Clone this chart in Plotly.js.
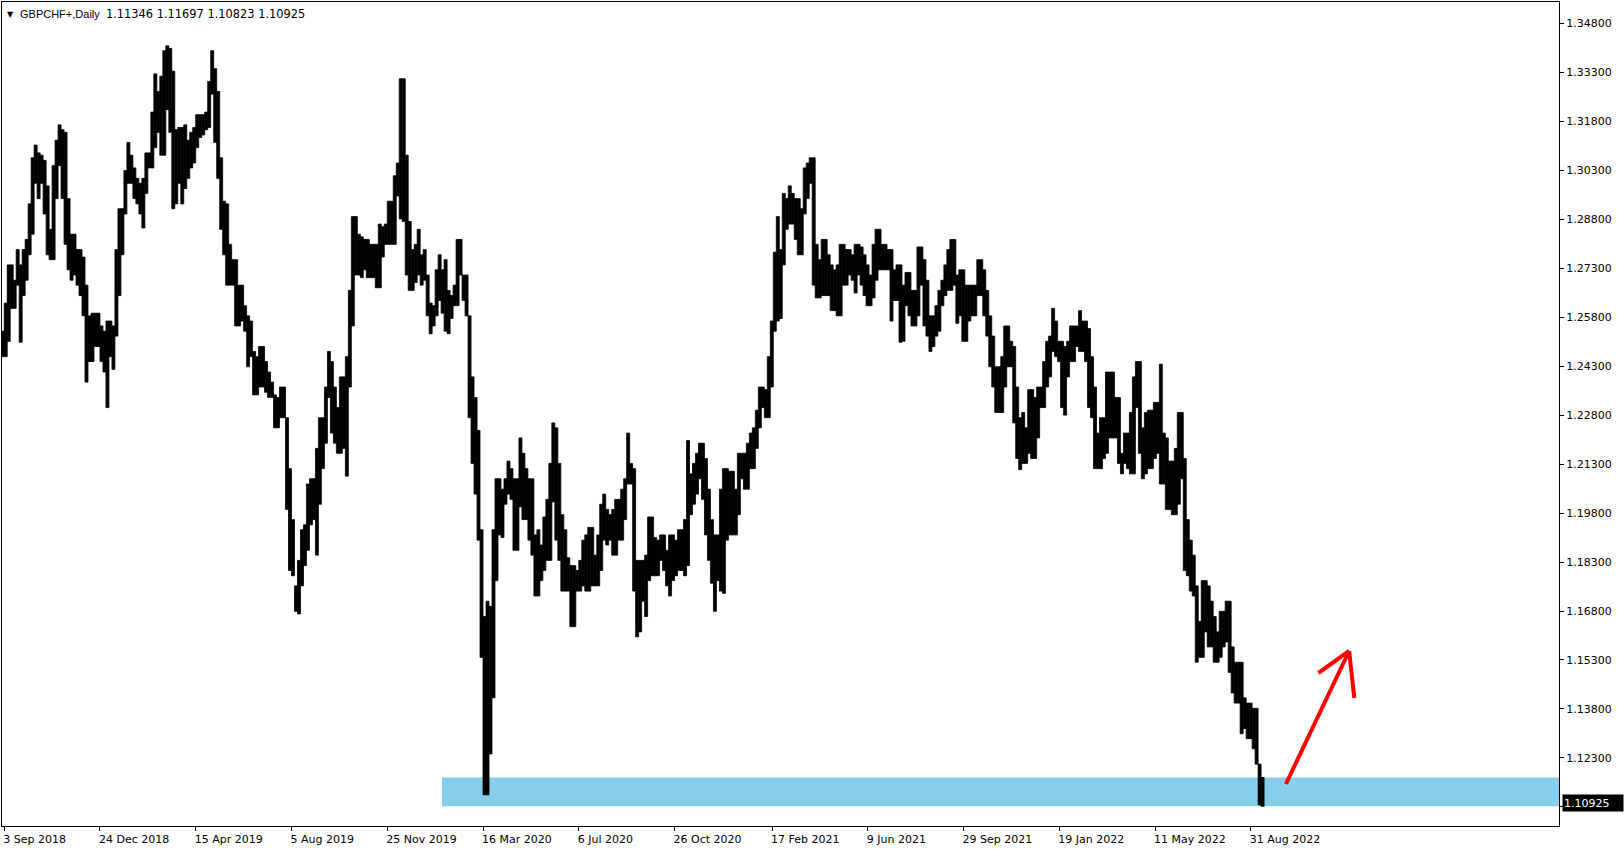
<!DOCTYPE html>
<html>
<head>
<meta charset="utf-8">
<script src="https://cdn.plot.ly/plotly-3.0.1.min.js"></script>
<style>
  html, body { margin: 0; padding: 0; background: #fff; }
  #chart { width: 1624px; height: 850px; }
</style>
</head>
<body>
<div id="chart"></div>
<script>
// ---- data (GBPCHF+, Daily) ----
// one entry per half week (3.5 days), starting with the half week that ends Monday 3 Sep 2018:
// the highest and lowest price drawn in that span
const firstSpanCentre = '2018-09-01 06:00:00';
const spanHigh = [
  1.2537,1.2623,1.2740,1.2740,1.2693,1.2787,1.2740,1.2787,1.2818,1.2927,1.3068,1.3107,1.3083,1.3076,1.3060,1.2982,1.2849,1.3044,1.3122,1.3169,
  1.3154,1.3146,1.2943,1.2834,1.2834,1.2787,1.2787,1.2764,1.2678,1.2584,1.2592,1.2592,1.2592,1.2553,1.2537,1.2568,1.2568,1.2553,1.2787,1.2912,
  1.2912,1.3029,1.3115,1.3076,1.3037,1.3005,1.2990,1.3005,1.3083,1.3083,1.3208,1.3325,1.3271,1.3318,1.3396,1.3411,1.3403,1.3333,1.3154,1.3161,
  1.3161,1.3169,1.3122,1.3146,1.3161,1.3200,1.3200,1.3200,1.3208,1.3302,1.3396,1.3341,1.3271,1.3068,1.2935,1.2927,1.2803,1.2756,1.2756,1.2678,
  1.2678,1.2615,1.2584,1.2568,1.2475,1.2459,1.2490,1.2490,1.2444,1.2412,1.2381,1.2342,1.2334,1.2366,1.2366,1.2272,1.2116,1.1960,1.1757,1.1835,
  1.1929,1.1944,1.2069,1.2085,1.2085,1.2178,1.2272,1.2272,1.2366,1.2475,1.2444,1.2366,1.2303,1.2397,1.2397,1.2459,1.2662,1.2888,1.2888,1.2834,
  1.2826,1.2818,1.2818,1.2803,1.2803,1.2803,1.2865,1.2857,1.2865,1.2935,1.2935,1.3013,1.3052,1.3310,1.3310,1.3076,1.2873,1.2787,1.2803,1.2849,
  1.2771,1.2787,1.2709,1.2623,1.2615,1.2725,1.2771,1.2725,1.2756,1.2662,1.2646,1.2678,1.2818,1.2818,1.2709,1.2709,1.2584,1.2397,1.2334,1.2233,
  1.1929,1.1663,1.1710,1.1694,1.1929,1.2085,1.2085,1.2053,1.2085,1.2139,1.2116,1.2085,1.2085,1.2210,1.2163,1.2116,1.2085,1.2085,1.1913,1.1929,
  1.1882,1.1968,1.2022,1.2132,1.2256,1.2241,1.2132,1.1975,1.1929,1.1843,1.1819,1.1819,1.1804,1.1835,1.1897,1.1913,1.1936,1.1936,1.1851,1.1913,
  1.2007,1.2038,1.1991,1.1975,1.1991,1.2022,1.2022,1.2053,1.2085,1.2225,1.2132,1.2116,1.1835,1.1835,1.1835,1.1851,1.1968,1.1968,1.1905,1.1897,
  1.1913,1.1913,1.1866,1.1913,1.1913,1.1897,1.1929,1.1929,1.1960,1.2202,1.2100,1.2132,1.2163,1.2194,1.2194,1.2147,1.2053,1.1960,1.1913,1.1913,
  1.2053,1.2116,1.2116,1.2108,1.2108,1.2053,1.2163,1.2163,1.2163,1.2194,1.2225,1.2241,1.2295,1.2366,1.2366,1.2358,1.2459,1.2568,1.2779,1.2888,
  1.2787,1.2959,1.2943,1.2982,1.2959,1.2943,1.2943,1.2912,1.3037,1.3052,1.3068,1.3068,1.2803,1.2756,1.2818,1.2818,1.2771,1.2740,1.2725,1.2740,
  1.2803,1.2803,1.2787,1.2787,1.2771,1.2803,1.2803,1.2795,1.2771,1.2740,1.2709,1.2803,1.2849,1.2849,1.2803,1.2803,1.2787,1.2787,1.2725,1.2740,
  1.2740,1.2678,1.2717,1.2717,1.2662,1.2662,1.2795,1.2795,1.2756,1.2693,1.2584,1.2584,1.2615,1.2662,1.2693,1.2740,1.2787,1.2818,1.2818,1.2709,
  1.2725,1.2725,1.2678,1.2678,1.2678,1.2678,1.2756,1.2756,1.2725,1.2662,1.2584,1.2522,1.2428,1.2428,1.2459,1.2553,1.2553,1.2506,1.2490,1.2366,
  1.2272,1.2288,1.2241,1.2358,1.2358,1.2334,1.2366,1.2366,1.2444,1.2506,1.2522,1.2607,1.2568,1.2506,1.2506,1.2490,1.2506,1.2553,1.2553,1.2553,
  1.2600,1.2568,1.2568,1.2545,1.2459,1.2366,1.2225,1.2272,1.2272,1.2412,1.2412,1.2412,1.2334,1.2334,1.2163,1.2225,1.2225,1.2288,1.2397,1.2444,
  1.2444,1.2241,1.2288,1.2295,1.2295,1.2319,1.2319,1.2436,1.2225,1.2210,1.2139,1.2139,1.2178,1.2288,1.2288,1.2147,1.1960,1.1897,1.1851,1.1757,
  1.1648,1.1773,1.1773,1.1757,1.1710,1.1663,1.1616,1.1679,1.1679,1.1710,1.1710,1.1570,1.1523,1.1523,1.1523,1.1414,1.1398,1.1398,1.1382,1.1382,
  1.1211,1.1170
];
const spanLow = [
  1.2459,1.2459,1.2506,1.2607,1.2607,1.2678,1.2503,1.2646,1.2693,1.2771,1.2834,1.2990,1.2943,1.2990,1.2896,1.2771,1.2756,1.2756,1.2943,1.3044,
  1.2943,1.2803,1.2725,1.2693,1.2709,1.2678,1.2646,1.2584,1.2381,1.2444,1.2444,1.2490,1.2490,1.2444,1.2412,1.2303,1.2459,1.2420,1.2522,1.2646,
  1.2771,1.2896,1.2990,1.2990,1.2943,1.2927,1.2896,1.2853,1.2959,1.3037,1.3037,1.3099,1.3146,1.3076,1.3076,1.3216,1.3146,1.2912,1.2927,1.2990,
  1.2927,1.2974,1.3005,1.3037,1.3052,1.3099,1.3130,1.3138,1.3154,1.3161,1.3263,1.3115,1.3005,1.2849,1.2771,1.2678,1.2678,1.2678,1.2553,1.2553,
  1.2568,1.2537,1.2428,1.2459,1.2342,1.2342,1.2366,1.2366,1.2350,1.2334,1.2334,1.2241,1.2241,1.2272,1.2272,1.1991,1.1804,1.1788,1.1679,1.1671,
  1.1757,1.1819,1.1866,1.1944,1.1960,1.1851,1.2007,1.2116,1.2194,1.2334,1.2225,1.2194,1.2163,1.2163,1.2178,1.2093,1.2366,1.2553,1.2709,1.2709,
  1.2701,1.2725,1.2701,1.2701,1.2701,1.2670,1.2670,1.2764,1.2803,1.2803,1.2803,1.2803,1.2951,1.2881,1.2873,1.2709,1.2662,1.2662,1.2686,1.2709,
  1.2678,1.2693,1.2584,1.2529,1.2553,1.2584,1.2631,1.2592,1.2537,1.2529,1.2576,1.2615,1.2615,1.2709,1.2631,1.2584,1.2272,1.2132,1.2038,1.1897,
  1.1538,1.1117,1.1117,1.1242,1.1414,1.1773,1.1913,1.1905,1.2007,1.2038,1.2022,1.1866,1.1866,1.1999,1.1960,1.1960,1.1897,1.1851,1.1726,1.1726,
  1.1773,1.1804,1.1835,1.1835,1.2014,1.1897,1.1835,1.1741,1.1741,1.1741,1.1632,1.1632,1.1741,1.1741,1.1757,1.1741,1.1741,1.1757,1.1757,1.1757,
  1.1804,1.1897,1.1882,1.1897,1.1851,1.1851,1.1897,1.1897,1.1960,1.2069,1.2069,1.1741,1.1601,1.1616,1.1710,1.1663,1.1773,1.1788,1.1788,1.1788,
  1.1835,1.1804,1.1757,1.1726,1.1773,1.1788,1.1804,1.1804,1.1788,1.1819,1.1975,1.2007,1.2038,1.2085,1.2022,1.1913,1.1835,1.1765,1.1679,1.1773,
  1.1741,1.1734,1.1897,1.1913,1.1913,1.1913,1.1975,1.2085,1.2053,1.2053,1.2116,1.2116,1.2178,1.2241,1.2303,1.2272,1.2272,1.2366,1.2537,1.2568,
  1.2576,1.2740,1.2849,1.2865,1.2865,1.2818,1.2771,1.2771,1.2896,1.2943,1.2990,1.2678,1.2639,1.2639,1.2646,1.2646,1.2646,1.2600,1.2600,1.2584,
  1.2584,1.2678,1.2678,1.2709,1.2693,1.2654,1.2709,1.2678,1.2646,1.2615,1.2615,1.2639,1.2693,1.2725,1.2725,1.2725,1.2725,1.2568,1.2631,1.2631,
  1.2503,1.2506,1.2615,1.2584,1.2553,1.2553,1.2584,1.2678,1.2553,1.2522,1.2475,1.2490,1.2522,1.2537,1.2615,1.2646,1.2662,1.2662,1.2678,1.2561,
  1.2584,1.2506,1.2506,1.2568,1.2584,1.2584,1.2646,1.2646,1.2584,1.2522,1.2428,1.2366,1.2288,1.2288,1.2288,1.2366,1.2428,1.2428,1.2256,1.2147,
  1.2113,1.2132,1.2132,1.2163,1.2147,1.2147,1.2210,1.2303,1.2303,1.2366,1.2397,1.2475,1.2459,1.2444,1.2303,1.2280,1.2397,1.2444,1.2444,1.2490,
  1.2475,1.2475,1.2444,1.2303,1.2272,1.2116,1.2116,1.2116,1.2147,1.2163,1.2210,1.2210,1.2210,1.2132,1.2100,1.2132,1.2116,1.2100,1.2100,1.2303,
  1.2163,1.2085,1.2100,1.2116,1.2116,1.2147,1.2163,1.2069,1.2069,1.1991,1.1991,1.1975,1.1975,1.2007,1.2085,1.1804,1.1788,1.1741,1.1726,1.1523,
  1.1538,1.1538,1.1616,1.1570,1.1570,1.1523,1.1523,1.1538,1.1570,1.1585,1.1492,1.1429,1.1398,1.1398,1.1304,1.1320,1.1289,1.1289,1.1258,1.1211,
  1.1086,1.1082
];
// header of the chart window: last bar open, high, low, close
const symbolLabel = 'GBPCHF+,Daily';
const lastBar = ['1.11346', '1.11697', '1.10823', '1.10925'];
const lastClose = 1.10925;
// support zone drawn on the chart (from the zone start to the right edge)
const zoneStart = '2020-01-28';
const zoneLow = 1.10823;
const zoneHigh = 1.11697;
// hand-drawn arrow: tail, tip, two barbs
const arrowX = ['2022-10-11', '2022-12-24', '2022-11-18', '2022-12-30'];
const arrowY = [1.11501, 1.15575, 1.14901, 1.14135];
// axis ticks
const dateTicks = ['2018-09-03','2018-12-24','2019-04-15','2019-08-05','2019-11-25','2020-03-16','2020-07-06',
                   '2020-10-26','2021-02-17','2021-06-09','2021-09-29','2022-01-19','2022-05-11','2022-08-31'];
const dateLabels = ['3 Sep 2018','24 Dec 2018','15 Apr 2019','5 Aug 2019','25 Nov 2019','16 Mar 2020','6 Jul 2020',
                    '26 Oct 2020','17 Feb 2021','9 Jun 2021','29 Sep 2021','19 Jan 2022','11 May 2022','31 Aug 2022'];
const priceTicks = [1.108,1.123,1.138,1.153,1.168,1.183,1.198,1.213,1.228,1.243,1.258,1.273,1.288,1.303,1.318,1.333,1.348];

// ---- build ----
const DAY = 86400000;
const SPAN = 3.5 * DAY;
const t0 = Date.parse(firstSpanCentre.replace(' ', 'T') + 'Z');
const spanDates = spanHigh.map((_, k) => new Date(t0 + k * SPAN).toISOString().replace('T', ' ').slice(0, 19));
const spanSize = spanHigh.map((h, k) => h - spanLow[k]);

const FONT = 'DejaVu Sans, Verdana, sans-serif';
const NAMEFONT = 'Liberation Sans, Arial, sans-serif';
const xRange = ['2018-08-31 10:00', '2023-08-26 10:00'];

const trace = {
  type: 'bar',
  x: spanDates,
  base: spanLow,
  y: spanSize,
  width: SPAN,
  marker: { color: '#000000', line: { color: '#000000', width: 0.8 } },
  hoverinfo: 'skip'
};

const layout = {
  width: 1624,
  height: 850,
  margin: { l: 2, r: 65, t: 2, b: 24, pad: 0 },
  paper_bgcolor: '#ffffff',
  plot_bgcolor: '#ffffff',
  showlegend: false,
  bargap: 0,
  hovermode: false,
  font: { family: FONT, size: 11, color: '#000000' },
  xaxis: {
    type: 'date',
    range: xRange,
    tickvals: dateTicks,
    ticktext: dateLabels,
    ticks: 'outside',
    ticklen: 4,
    tickcolor: '#000000',
    ticklabelposition: 'outside right',
    ticklabelshift: -2,
    ticklabelstandoff: 3,
    showgrid: false,
    zeroline: false,
    showline: true,
    linecolor: '#000000',
    linewidth: 1,
    mirror: true,
    tickfont: { family: FONT, size: 11, color: '#000000' },
    fixedrange: true
  },
  yaxis: {
    side: 'right',
    range: [1.10215, 1.35452],
    tickvals: priceTicks,
    tickformat: '.5f',
    ticks: 'outside',
    ticklen: 4,
    tickcolor: '#000000',
    showgrid: false,
    zeroline: false,
    showline: true,
    linecolor: '#000000',
    linewidth: 1,
    mirror: true,
    tickfont: { family: FONT, size: 11, color: '#000000' },
    fixedrange: true
  },
  shapes: [
    { type: 'rect', xref: 'x', yref: 'y', x0: zoneStart, x1: xRange[1], y0: zoneLow, y1: zoneHigh,
      fillcolor: '#87CEEB', line: { width: 0 }, layer: 'below' },
    { type: 'line', xref: 'x', yref: 'y', x0: arrowX[0], y0: arrowY[0], x1: arrowX[1], y1: arrowY[1],
      line: { color: '#FF0000', width: 4 } },
    { type: 'line', xref: 'x', yref: 'y', x0: arrowX[2], y0: arrowY[2], x1: arrowX[1], y1: arrowY[1],
      line: { color: '#FF0000', width: 4 } },
    { type: 'line', xref: 'x', yref: 'y', x0: arrowX[3], y0: arrowY[3], x1: arrowX[1], y1: arrowY[1],
      line: { color: '#FF0000', width: 4 } }
  ],
  annotations: [
    { xref: 'paper', yref: 'paper', x: 0, y: 0.985, xanchor: 'left', yanchor: 'middle', xshift: 3,
      text: '\u25BC', showarrow: false, font: { family: FONT, size: 8, color: '#000000' } },
    { xref: 'paper', yref: 'paper', x: 0, y: 0.985, xanchor: 'left', yanchor: 'middle', xshift: 16,
      text: symbolLabel, showarrow: false, font: { family: NAMEFONT, size: 11, color: '#000000' } },
    { xref: 'paper', yref: 'paper', x: 0, y: 0.985, xanchor: 'left', yanchor: 'middle', xshift: 102,
      text: lastBar.join(' '), showarrow: false, font: { family: FONT, size: 11.4, color: '#000000' } },
    { xref: 'paper', yref: 'y', x: 1, y: lastClose, xanchor: 'left', yanchor: 'middle', xshift: 3,
      text: lastClose.toFixed(5), showarrow: false, bgcolor: '#000000', borderpad: 1,
      width: 58, height: 14, align: 'left',
      font: { family: FONT, size: 11, color: '#ffffff' } }
  ]
};

Plotly.newPlot('chart', [trace], layout, { staticPlot: true, displayModeBar: false });
</script>
</body>
</html>
